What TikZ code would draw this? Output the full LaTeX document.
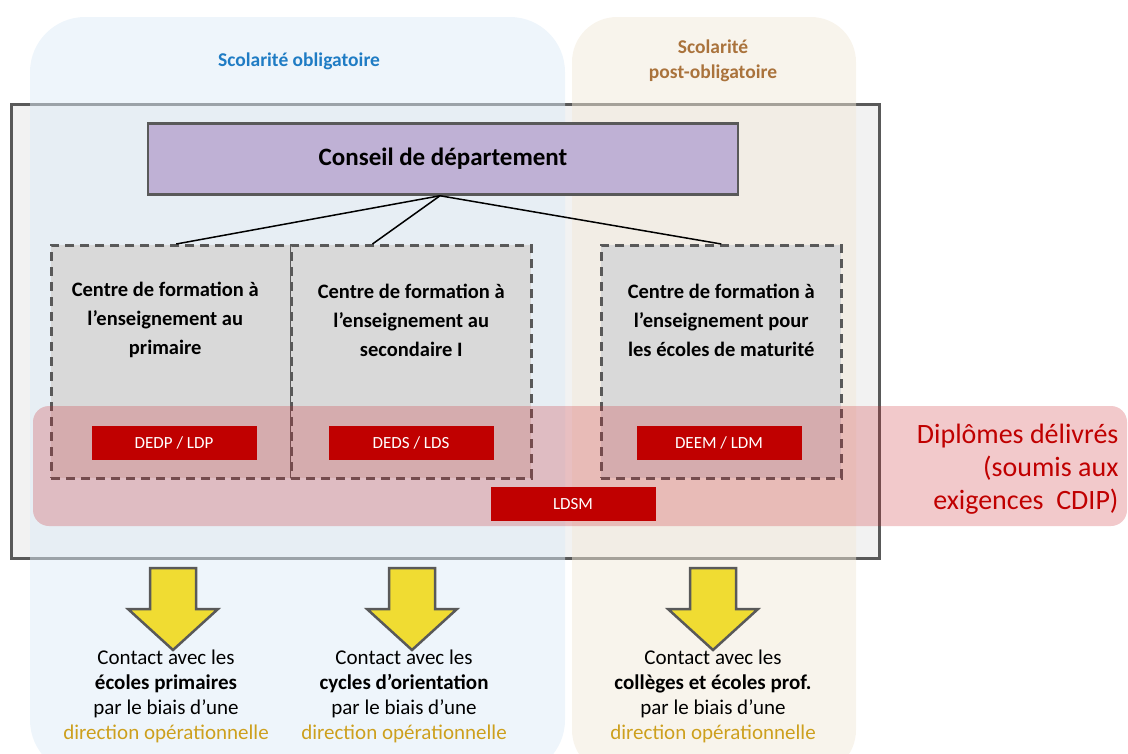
\documentclass[tikz,border=0pt]{standalone}
\usepackage{fontspec}
\setmainfont{Carlito}
\usetikzlibrary{calc}

\definecolor{dgray}{RGB}{89,89,89}
\definecolor{boxgray}{RGB}{242,242,242}
\definecolor{lilac}{RGB}{191,177,213}
\definecolor{cfgray}{RGB}{217,217,217}
\definecolor{dred}{RGB}{192,0,0}
\definecolor{bandred}{RGB}{203,39,47}
\definecolor{oblblue}{RGB}{221,235,247}
\definecolor{postbeige}{RGB}{242,233,218}
\definecolor{txtblue}{RGB}{31,124,196}
\definecolor{txtbrown}{RGB}{170,115,60}
\definecolor{gold}{RGB}{205,160,30}
\definecolor{jaune}{RGB}{240,220,50}

\tikzset{
  cfbox/.style={draw=dgray, fill=cfgray, line width=2.5pt, dash pattern=on 9pt off 6pt,
    minimum width=240pt, minimum height=233pt, anchor=north west},
  cftext/.style={align=center, font=\fontsize{20.5}{29}\selectfont\bfseries},
  diplbox/.style={fill=dred, text=white, minimum width=165pt, minimum height=34pt,
    font=\fontsize{17}{18}\selectfont},
  contact/.style={align=center, font=\fontsize{21}{25}\selectfont},
  jflèche/.style={draw=dgray, fill=jaune, line width=2.5pt, line join=miter},
}

\begin{document}
\begin{tikzpicture}[x=1pt, y=-1pt]
  \useasboundingbox (0,0) rectangle (1128,753);

  % cadre du departement
  \node[draw=dgray, line width=3pt, fill=boxgray, minimum width=868pt, minimum height=454pt,
    anchor=north west] (cadre) at (10,103) {};

  % zones de scolarite
  \fill[oblblue, fill opacity=.5, rounded corners=55pt] (30,17) rectangle (565,775);
  \fill[postbeige, fill opacity=.5, rounded corners=45pt] (572,17) rectangle (856,775);
  \node[font=\fontsize{19.5}{25}\selectfont\bfseries, text=txtblue] (obl) at (299,61) {Scolarité obligatoire};
  \node[font=\fontsize{19.5}{25}\selectfont\bfseries, text=txtbrown, align=center] (post) at (713,61)
    {Scolarité\\post-obligatoire};

  % conseil et centres
  \node[draw=dgray, line width=2.5pt, fill=lilac, minimum width=590pt, minimum height=71pt,
    font=\fontsize{25}{28}\selectfont\bfseries] (cd) at (443,159) {Conseil de département};

  \node[cfbox] (cfp) at (50,244) {};
  \node[cfbox] (cfs) at (290,244) {};
  \node[cfbox] (cfm) at (600,244) {};

  \draw[line width=1.5pt] ($(cd.south)+(-3,0)$) -- ($(cfp.north)+(5,0)$);
  \draw[line width=1.5pt] ($(cd.south)+(-3,0)$) -- ($(cfs.north west)!0.34!(cfs.north east)$);
  \draw[line width=1.5pt] ($(cd.south)+(-3,0)$) -- (cfm.north);

  \node[cftext] at ($(cfp.north)+(-6,76)$) {Centre de formation à\\l’enseignement au\\primaire};
  \node[cftext] at ($(cfs.north)+(0,76)$) {Centre de formation à\\l’enseignement au\\secondaire I};
  \node[cftext] at ($(cfm.north)+(0,76)$) {Centre de formation à\\l’enseignement pour\\les écoles de maturité};

  % diplomes
  \fill[bandred, fill opacity=.25, rounded corners=16pt] (33,406) rectangle (1127,526);
  \node[diplbox] (dedp) at (174,443) {DEDP / LDP};
  \node[diplbox] (deds) at (411,443) {DEDS / LDS};
  \node[diplbox] (deem) at (719,443) {DEEM / LDM};
  \node[diplbox] (ldsm) at (573,504) {LDSM};
  \node[anchor=east, align=right, text=dred, font=\fontsize{28}{33}\selectfont] (dipl) at (1122,469)
    {Diplômes délivrés\\(soumis aux\\exigences\ \ CDIP)};

  % fleches et contacts
  \foreach \x in {173,412,713}
    \draw[jflèche] (\x-23,568) -- (\x+23,568) -- (\x+23,609) -- (\x+45,609) -- (\x,650)
      -- (\x-45,609) -- (\x-23,609) -- cycle;

  \node[contact] (ctp) at (166,696) {Contact avec les\\\textbf{écoles primaires}\\par le biais d’une\\
    \textcolor{gold}{direction opérationnelle}};
  \node[contact] (cts) at (404,696) {Contact avec les\\\textbf{cycles d’orientation}\\par le biais d’une\\
    \textcolor{gold}{direction opérationnelle}};
  \node[contact] (ctm) at (713,696) {Contact avec les\\\textbf{collèges et écoles prof.}\\par le biais d’une\\
    \textcolor{gold}{direction opérationnelle}};
\end{tikzpicture}
\end{document}
